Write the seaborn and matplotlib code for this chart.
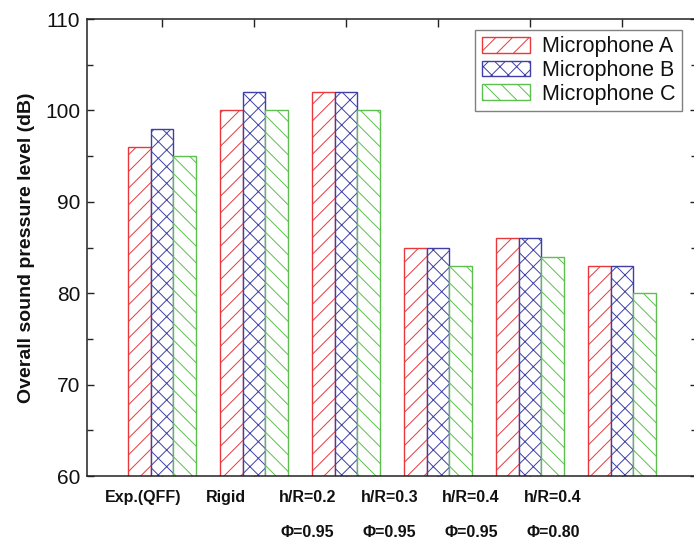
import numpy as np
import pandas as pd
import matplotlib
matplotlib.use("Agg")
import matplotlib.pyplot as plt
import matplotlib.transforms as mtransforms
from matplotlib.ticker import MultipleLocator
from matplotlib.patches import Patch
import seaborn as sns

# Overall sound pressure level (dB) per configuration and microphone
cases_top = ["Exp.(QFF)", "Rigid", "h/R=0.2", "h/R=0.3", "h/R=0.4", "h/R=0.4"]
cases_bottom = ["", "", "Φ=0.95", "Φ=0.95", "Φ=0.95", "Φ=0.80"]
mic_a = [96, 100, 102, 85, 86, 83]
mic_b = [98, 102, 102, 85, 86, 83]
mic_c = [95, 100, 100, 83, 84, 80]
series_names = ["Microphone A", "Microphone B", "Microphone C"]

colors = ["#e8383c", "#3f3fa6", "#5cbf4e"]
hatches = ["//", "xx", "\\\\"]

case_ids = [f"c{i}" for i in range(len(cases_top))]
df = pd.DataFrame({
    "case": case_ids * 3,
    "spl": mic_a + mic_b + mic_c,
    "mic": sum([[n] * len(case_ids) for n in series_names], []),
})

sns.set_style("white")
plt.rcParams["font.family"] = ["Liberation Sans", "DejaVu Sans"]
plt.rcParams["hatch.linewidth"] = 0.7

fig = plt.figure(figsize=(6.94, 5.46), dpi=100)
ax = fig.add_axes([0.1254, 0.1282, 0.8789, 0.837])

sns.barplot(data=df, x="case", y="spl", hue="mic", order=case_ids,
            hue_order=series_names, palette=colors, width=0.735,
            fill=False, linewidth=1.0, legend=False, ax=ax, errorbar=None)

for cont, col, h in zip(ax.containers, colors, hatches):
    for bar in cont:
        bar.set_facecolor("white")
        bar.set_fill(True)
        bar.set_edgecolor(col)
        bar.set_hatch(h)
        bar.set_linewidth(1.0)

n = len(case_ids)
ax.set_xlim(-0.815, n - 1 + 0.815)
ax.set_ylim(60, 110)
ax.yaxis.set_major_locator(MultipleLocator(10))
ax.yaxis.set_minor_locator(MultipleLocator(5))
ax.set_xticks(range(n))
ax.set_xticklabels([])
ax.set_xlabel("")
ax.set_ylabel("Overall sound pressure level (dB)", fontsize=14,
              fontweight="bold", labelpad=7, color="#111111")

for s in ax.spines.values():
    s.set_visible(True)
    s.set_color("#222222")
    s.set_linewidth(1.1)

ax.tick_params(axis="y", which="major", direction="in", length=5, width=1.0,
               left=True, right=True, labelsize=15, pad=5, colors="#222222")
ax.tick_params(axis="y", which="minor", direction="in", length=4.5, width=1.0,
               left=True, right=True)
ax.tick_params(axis="x", which="major", direction="in", length=6, width=1.0,
               bottom=True, top=True, colors="#222222")
for lab in ax.get_yticklabels():
    lab.set_color("#111111")

# Two-row category captions below the axis
label_x = -0.2 + 0.89 * np.arange(n)
tr = mtransforms.blended_transform_factory(ax.transData, ax.transAxes)
off1 = mtransforms.offset_copy(tr, fig=fig, y=-14, units="dots")
off2 = mtransforms.offset_copy(tr, fig=fig, y=-49, units="dots")
for x, t1, t2 in zip(label_x, cases_top, cases_bottom):
    ax.text(x, 0, t1, transform=off1, ha="center", va="top",
            fontsize=11.5, fontweight="bold", color="#111111")
    if t2:
        ax.text(x, 0, t2, transform=off2, ha="center", va="top",
                fontsize=11.5, fontweight="bold", color="#111111")

handles = [Patch(facecolor="white", edgecolor=c, hatch=h, linewidth=1.0)
           for c, h in zip(colors, hatches)]
leg = ax.legend(handles, series_names, loc="upper right",
                bbox_to_anchor=(0.9754, 0.976), borderaxespad=0,
                fontsize=15.5, frameon=True, fancybox=False, framealpha=1,
                edgecolor="#808080", handlelength=2.25, handleheight=0.75,
                handletextpad=0.55, labelspacing=0.12, borderpad=0.3)
leg.get_frame().set_linewidth(1.0)
for t in leg.get_texts():
    t.set_color("#111111")

fig.savefig("out.png", dpi=100)
